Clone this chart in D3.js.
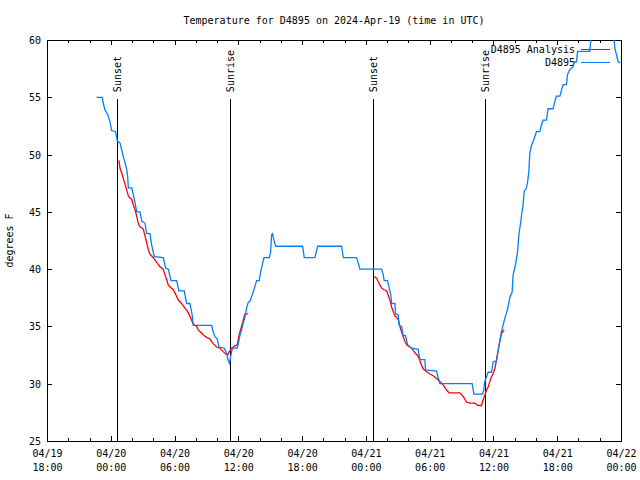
<!DOCTYPE html>
<html>
<head>
<meta charset="utf-8">
<script src="https://cdn.jsdelivr.net/npm/d3@7/dist/d3.min.js"></script>
<style>
  html, body { margin: 0; padding: 0; background: #fff; }
  svg { display: block; }
  text { font-family: "DejaVu Sans Mono", "Liberation Mono", monospace; font-size: 10px; fill: #000; }
</style>
</head>
<body>
<svg id="chart" width="640" height="480"></svg>
<script>
// ---------------- DATA ----------------
const titleText = "Temperature for D4895 on 2024-Apr-19 (time in UTC)";
const yLabelText = "degrees F";
const startTime = "2024-04-19T18:00:00Z";
const endTime = "2024-04-22T00:00:00Z";
const yTickValues = [25, 30, 35, 40, 45, 50, 55, 60];
const seriesNames = ["D4895 Analysis", "D4895"];

// Observations: hours since 04/19 18:00 UTC, temperature (F)
const obsHours = [4.67, 5.20, 5.29, 5.45, 5.71, 5.92, 6.08, 6.46, 6.61, 6.87, 7.03, 7.18, 7.34, 7.50, 7.59, 7.65, 7.97, 8.12, 8.28, 8.44,
  8.75, 8.91, 9.22, 9.38, 9.69, 9.85, 10.09, 10.94, 11.16, 11.41, 11.66, 12.20, 12.41, 12.91, 13.14, 13.45, 13.66, 13.76, 15.49, 15.64,
  15.80, 16.02, 16.18, 16.67, 16.90, 16.99, 17.16, 17.37, 17.43, 17.90, 17.99, 18.15, 18.31, 18.46, 18.62, 18.78, 18.93, 19.09, 19.25, 19.40,
  19.56, 19.72, 19.97, 20.10, 20.29, 20.41, 20.91, 21.04, 21.13, 21.22, 21.35, 21.51, 24.05, 24.20, 25.20, 25.46, 27.71, 27.87, 29.13, 29.44,
  31.48, 31.63, 31.72, 32.04, 32.16, 32.35, 32.42, 32.73, 32.79, 33.04, 33.13, 33.36, 33.51, 33.73, 33.92, 34.14, 34.30, 34.92, 35.08, 35.55,
  35.61, 36.65, 36.80, 36.96, 40.00, 40.16, 40.98, 41.10, 41.19, 41.35, 41.50, 41.82, 41.97, 42.29, 42.44, 42.60, 42.76, 43.07, 43.33, 43.54,
  43.76, 43.85, 44.08, 44.27, 44.39, 44.58, 44.64, 44.79, 44.89, 45.11, 45.21, 45.33, 45.42, 45.58, 45.83, 46.05, 46.36, 46.52, 46.67, 46.99,
  47.14, 47.61, 47.77, 47.93, 48.25, 48.40, 48.56, 48.87, 48.97, 49.18, 49.50, 49.59, 49.82, 49.91, 51.07, 51.23, 53.26, 53.42, 53.73, 53.94];
const obsTempF = [55.0, 55.0, 54.5, 53.9, 53.5, 52.9, 52.1, 52.0, 51.2, 51.0, 50.4, 49.8, 49.3, 48.7, 48.1, 47.1, 47.1, 46.5, 45.8, 45.0,
  45.0, 44.2, 44.0, 43.1, 43.1, 42.1, 41.1, 41.0, 40.1, 40.0, 39.0, 39.0, 38.1, 38.1, 37.0, 37.0, 36.0, 35.1, 35.1, 34.5,
  34.1, 33.9, 33.2, 33.1, 32.7, 32.2, 31.8, 32.8, 33.1, 33.1, 33.5, 34.2, 34.7, 35.3, 35.8, 36.6, 37.1, 37.2, 37.6, 38.0,
  38.5, 39.0, 39.0, 39.8, 40.5, 41.0, 41.0, 41.5, 43.0, 43.1, 42.5, 42.0, 42.0, 41.0, 41.0, 42.0, 42.0, 41.0, 41.0, 40.0,
  40.0, 39.5, 39.0, 39.0, 38.5, 37.7, 37.0, 37.0, 36.1, 36.0, 35.1, 35.0, 34.2, 34.2, 33.4, 33.2, 33.1, 33.0, 32.1, 32.1,
  31.2, 31.1, 30.5, 30.0, 30.0, 29.1, 29.1, 29.5, 30.2, 30.6, 31.0, 31.0, 31.9, 32.0, 32.9, 33.7, 34.6, 35.7, 36.5, 37.5,
  38.0, 39.5, 40.4, 41.5, 43.0, 44.2, 44.7, 45.6, 46.8, 47.1, 47.6, 48.5, 50.1, 50.8, 51.4, 52.0, 52.0, 52.6, 53.0, 53.0,
  54.0, 54.0, 54.6, 55.1, 55.1, 55.6, 56.1, 56.1, 57.0, 57.4, 57.7, 58.1, 58.1, 59.0, 59.0, 61.0, 61.0, 59.3, 58.1, 58.0];

// Analysis: two segments (null marks the gap)
const anaHours = [6.77, 6.87, 7.03, 7.18, 7.34, 7.50, 7.65, 7.81, 7.97, 8.12, 8.28, 8.44, 8.59, 8.75, 9.06, 9.22, 9.38, 9.53, 9.69, 10.00,
  10.32, 10.63, 10.94, 11.10, 11.26, 11.41, 11.63, 11.88, 12.10, 12.35, 12.67, 12.82, 13.14, 13.29, 13.54, 13.76, 14.08, 14.23, 14.55, 14.77,
  15.02, 15.33, 15.64, 15.96, 16.27, 16.58, 16.81, 17.00, 17.21, 17.37, 17.68, 17.90, 18.08, 18.24, 18.40, 18.53, 18.62, 18.93,
  null,
  30.78, 31.01, 31.16, 31.32, 31.53, 31.72, 31.95, 32.10, 32.26, 32.42, 32.57, 32.73, 32.89, 33.04, 33.20, 33.36, 33.51, 33.67, 33.83, 33.98,
  34.30, 34.61, 34.92, 35.08, 35.24, 35.39, 35.71, 36.02, 36.33, 36.65, 36.96, 37.27, 37.59, 37.83, 38.84, 39.15, 39.47, 39.78, 40.25, 40.56,
  40.88, 41.03, 41.19, 41.35, 41.50, 41.66, 41.82, 41.97, 42.13, 42.29, 42.44, 42.60, 42.76, 42.92, 43.01];
const anaTempF = [49.5, 48.8, 48.4, 47.9, 47.4, 46.9, 46.4, 46.2, 46.1, 45.6, 45.2, 44.6, 44.0, 43.7, 43.5, 42.9, 42.3, 41.7, 41.3, 41.0,
  40.6, 40.2, 40.0, 39.5, 39.1, 38.6, 38.4, 38.2, 37.8, 37.3, 37.0, 36.8, 36.4, 36.2, 35.7, 35.2, 35.0, 34.7, 34.4, 34.2,
  34.05, 33.9, 33.5, 33.2, 33.1, 32.8, 32.6, 32.5, 32.9, 33.1, 33.3, 33.4, 34.3, 34.8, 35.3, 35.8, 36.1, 36.1,
  null,
  39.35, 39.2, 38.9, 38.6, 38.3, 38.2, 38.1, 37.7, 37.3, 36.7, 36.3, 35.9, 35.8, 35.6, 35.0, 34.5, 34.1, 33.7, 33.4, 33.3,
  33.1, 32.7, 32.4, 32.0, 31.6, 31.3, 31.05, 30.85, 30.7, 30.45, 30.2, 29.9, 29.45, 29.2, 29.2, 28.9, 28.4, 28.3, 28.3, 28.1,
  28.1, 28.6, 29.0, 29.45, 29.7, 30.2, 30.6, 30.9, 31.3, 32.1, 32.9, 33.7, 34.4, 34.6, 34.7];

// Sun events: hours since 04/19 18:00 UTC
const eventHours = [6.63, 17.25, 30.70, 41.23];
const eventLabels = ["Sunset", "Sunrise", "Sunset", "Sunrise"];

// ---------------- CHART ----------------
const W = 640, H = 480;
const margin = { left: 47, right: 19, top: 40, bottom: 39 };
const innerW = W - margin.left - margin.right;
const innerH = H - margin.top - margin.bottom;
const t0 = new Date(startTime).getTime();
const toDate = h => new Date(t0 + h * 3600e3);

const x = d3.scaleUtc().domain([new Date(startTime), new Date(endTime)]).range([0, innerW]);
const y = d3.scaleLinear().domain([25, 60]).range([innerH, 0]);

const svg = d3.select("#chart");
svg.append("rect").attr("width", W).attr("height", H).attr("fill", "#fff");

svg.append("text").attr("x", margin.left + innerW / 2).attr("y", 24).attr("text-anchor", "middle").text(titleText);
svg.append("text").attr("transform", `translate(13,${margin.top + innerH / 2}) rotate(-90)`)
  .attr("text-anchor", "middle").text(yLabelText);

const g = svg.append("g").attr("transform", `translate(${margin.left},${margin.top})`);

svg.append("defs").append("clipPath").attr("id", "clip")
  .append("rect").attr("x", 0).attr("y", 0).attr("width", innerW).attr("height", innerH);

// Axes via d3
const majorTicks = x.ticks(d3.utcHour.every(6));
const minorTicks = x.ticks(d3.utcHour.every(2)).filter(d => d.getUTCHours() % 6 !== 0);

const fmtDay = d3.utcFormat("%m/%d"), fmtHM = d3.utcFormat("%H:%M");

function styleAxis(sel) {
  sel.select(".domain").remove();
  sel.selectAll("line").attr("stroke", "#000").attr("shape-rendering", "crispEdges");
}

// bottom major with labels
const xBottom = g.append("g").attr("transform", `translate(0,${innerH})`)
  .call(d3.axisBottom(x).tickValues(majorTicks).tickSize(-5).tickFormat(""));
styleAxis(xBottom);
xBottom.selectAll(".tick").each(function (d) {
  const t = d3.select(this).append("text").attr("text-anchor", "middle").attr("fill", "#000");
  t.append("tspan").attr("x", 0).attr("y", 16).text(fmtDay(d));
  t.append("tspan").attr("x", 0).attr("y", 30).text(fmtHM(d));
});
styleAxis(g.append("g").attr("transform", `translate(0,${innerH})`)
  .call(d3.axisBottom(x).tickValues(minorTicks).tickSize(-3).tickFormat("")));
// top mirror
styleAxis(g.append("g").call(d3.axisTop(x).tickValues(majorTicks).tickSize(-5).tickFormat("")));
styleAxis(g.append("g").call(d3.axisTop(x).tickValues(minorTicks).tickSize(-3).tickFormat("")));

// y axes
const yLeft = g.append("g").call(d3.axisLeft(y).tickValues(yTickValues).tickSize(-5).tickPadding(6).tickFormat(d3.format("d")));
styleAxis(yLeft);
yLeft.selectAll("text").attr("font-family", null).attr("font-size", null).attr("fill", "#000").attr("dy", "0.35em");
styleAxis(g.append("g").attr("transform", `translate(${innerW},0)`)
  .call(d3.axisRight(y).tickValues(yTickValues).tickSize(-5).tickFormat("")));

// border
g.append("rect").attr("x", 0).attr("y", 0).attr("width", innerW).attr("height", innerH)
  .attr("fill", "none").attr("stroke", "#000").attr("shape-rendering", "crispEdges");

// Sun event lines
const ev = g.append("g");
eventHours.forEach((h, i) => {
  const xe = Math.round(x(toDate(h))) + 0.5;
  ev.append("line").attr("x1", xe).attr("x2", xe).attr("y1", innerH * 0.148).attr("y2", innerH)
    .attr("stroke", "#000").attr("stroke-width", 1.2).attr("shape-rendering", "crispEdges");
  ev.append("text").attr("transform", `translate(${xe},${innerH * 0.13}) rotate(-90)`)
    .attr("text-anchor", "start").attr("dy", "0.35em").text(eventLabels[i]);
});

// Legend
const lg = g.append("g");
const legendColors = ["#ff0000", "#0080ff"];
seriesNames.forEach((name, i) => {
  const ly = 9 + i * 13;
  lg.append("text").attr("x", 528).attr("y", ly).attr("dy", "0.35em").attr("text-anchor", "end").text(name);
  lg.append("line").attr("x1", 534).attr("x2", 563).attr("y1", ly + 0.5).attr("y2", ly + 0.5)
    .attr("stroke", legendColors[i]).attr("stroke-width", 1.2).attr("shape-rendering", "crispEdges");
});

// Data lines
const plot = g.append("g").attr("clip-path", "url(#clip)");
const obs = obsHours.map((h, i) => ({ t: toDate(h), v: obsTempF[i] }));
const ana = anaHours.map((h, i) => ({ t: h === null ? null : toDate(h), v: anaTempF[i] }));
const line = d3.line().defined(d => d.t !== null && d.v !== null).x(d => x(d.t)).y(d => y(d.v));

plot.append("path").datum(ana).attr("d", line).attr("fill", "none")
  .attr("stroke", legendColors[0]).attr("stroke-width", 1.3);
plot.append("path").datum(obs).attr("d", line).attr("fill", "none")
  .attr("stroke", legendColors[1]).attr("stroke-width", 1.3);
</script>
</body>
</html>
